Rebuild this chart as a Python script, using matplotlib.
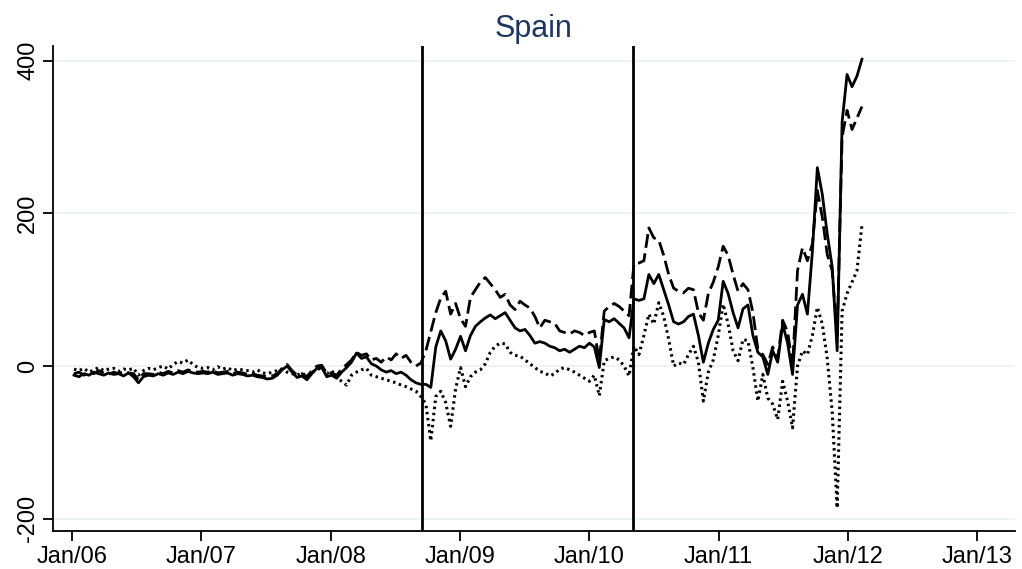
import datetime as dt
import numpy as np
import pandas as pd
import matplotlib
matplotlib.use('Agg')
import matplotlib.pyplot as plt
import matplotlib.dates as mdates

plt.rcParams['font.family'] = ['Liberation Sans', 'DejaVu Sans']
plt.rcParams['axes.unicode_minus'] = False

# --- data (biweekly from Jan 2006) ---
dates = pd.date_range('2006-01-06', periods=160, freq='14D')

solid = [
    -12, -14, -10, -12, -8, -10, -12, -9, -11, -10, -13, -9, -14, -22, -14,
    -12, -13, -10, -12, -9, -11, -8, -10, -7, -9, -10,
    -9, -10, -8, -11, -10, -9, -12, -10, -11, -13, -12, -14, -15, -17, -16,
    -12, -5, 0, -8, -15, -13, -18, -10, -3, -2, -14, -12, -16, -8, -2,
    5, 17, 10, 12, 3, 0, -5, -8, -6, -10, -8, -12, -18, -22, -24,
    -24, -28, 25, 46, 33, 9, 22, 39, 20, 40, 52, 58, 63, 67, 62,
    66, 70, 60, 50, 46, 48, 40, 30, 32, 30, 26, 24, 20, 22, 18,
    22, 26, 24, 30, 25, -2, 61, 58, 62, 56, 50, 37, 88, 86, 88,
    120, 108, 120, 100, 80, 58, 55, 58, 65, 68, 40, 5, 30, 48, 60,
    111, 95, 70, 50, 75, 80, 40, 18, 12, -11, 20, 5, 55, 30, -11,
    80, 94, 68, 150, 260, 225, 173, 130, 20, 320, 382, 366, 380, 402,
]
dashed = [
    -10, -8, -12, -8, -10, -6, -9, -11, -8, -10, -7, -9, -10, -18, -10,
    -10, -11, -8, -10, -7, -9, -6, -8, -5, -7, -8,
    -7, -8, -6, -9, -8, -7, -10, -8, -9, -11, -10, -12, -13, -14, -13,
    -10, -3, 2, -6, -12, -10, -14, -6, 0, 1, -10, -9, -12, -4, 2,
    8, 18, 14, 16, 8, 10, 5, 12, 8, 16, 10, 14, 5, 0, 4,
    20, 45, 70, 89, 98, 68, 82, 62, 52, 90, 100, 110, 116, 108, 100,
    90, 94, 80, 74, 85, 80, 76, 65, 50, 60, 58, 56, 46, 44, 42,
    46, 44, 40, 44, 46, 7, 72, 78, 82, 78, 72, 66, 134, 135, 138,
    181, 168, 165, 145, 120, 102, 98, 96, 102, 100, 70, 60, 95, 110, 130,
    157, 145, 120, 98, 108, 100, 70, 22, 15, 2, 25, 10, 60, 45, 0,
    125, 155, 138, 160, 230, 195, 146, 125, 40, 300, 335, 310, 325, 340,
]
dotted = [
    -4, -6, -3, -8, -5, -2, -6, -4, -3, -7, -4, -5, -3, -12, -6,
    -3, -5, -2, 0, -4, 2, 6, 4, 8, 2, -2,
    -3, -2, -5, -1, -4, -2, -6, -4, -5, -6, -8, -5, -9, -10, -8,
    -6, -4, -8, -10, -12, -9, -14, -8, -5, -2, -10, -6, -15, -20, -25,
    -12, -8, -5, -3, -12, -14, -16, -18, -20, -22, -25, -27, -30, -33, -40,
    -50, -98, -40, -33, -48, -79, -30, -2, -27, -14, -8, -5, 3, 18, 26,
    30, 29, 18, 14, 13, 8, 3, -2, -7, -9, -13, -10, -4, -2, -5,
    -8, -12, -16, -20, -12, -39, 7, 10, 12, 8, 0, -13, 26, 15, 40,
    68, 55, 83, 65, 35, 0, 4, 2, 15, 26, 5, -46, -8, 8, 40,
    81, 55, 20, 7, 35, 33, -2, -46, -11, -42, -50, -70, -20, -46, -81,
    0, 20, 15, 40, 77, 55, 10, -60, -186, 72, 95, 110, 125, 185,
]

events = [dt.datetime(2008, 9, 15), dt.datetime(2010, 5, 5)]
years = list(range(2006, 2014))
title = "Spain"

# --- canvas ---
fig = plt.figure(figsize=(10.22, 5.69), dpi=100)
ax = fig.add_axes([0.052, 0.067, 0.941, 0.853])

ax.plot(dates, solid, color='black', lw=2.0, zorder=3)
ax.plot(dates, dashed, color='black', lw=2.0, dashes=(5, 2), zorder=3)
ax.plot(dates, dotted, color='black', lw=2.2, dashes=(0.8, 1.2), zorder=3)

for d in events:
    ax.axvline(d, color='black', lw=2.0, zorder=4)

# axes / ticks
ax.set_ylim(-216, 420)
ax.set_yticks([-200, 0, 200, 400])
ax.set_xlim(dt.datetime(2005, 11, 8), dt.datetime(2013, 4, 17))
ax.set_xticks([dt.datetime(y, 1, 1) for y in years])
ax.xaxis.set_major_formatter(mdates.DateFormatter('Jan/%y'))
ax.grid(axis='y', color='#eaf2f3', lw=1.2, zorder=0)

for s in ['top', 'right']:
    ax.spines[s].set_visible(False)
for s in ['left', 'bottom']:
    ax.spines[s].set_linewidth(1.3)

ax.tick_params(axis='both', direction='out', length=7, width=1.3, labelsize=17)
ax.tick_params(axis='y', pad=3)
ax.tick_params(axis='x', pad=4)
for lab in ax.get_yticklabels():
    lab.set_rotation(90)
    lab.set_va('center')

ax.set_title(title, color='#1c3660', fontsize=22, pad=6)

plt.savefig('out.png', facecolor='white')
